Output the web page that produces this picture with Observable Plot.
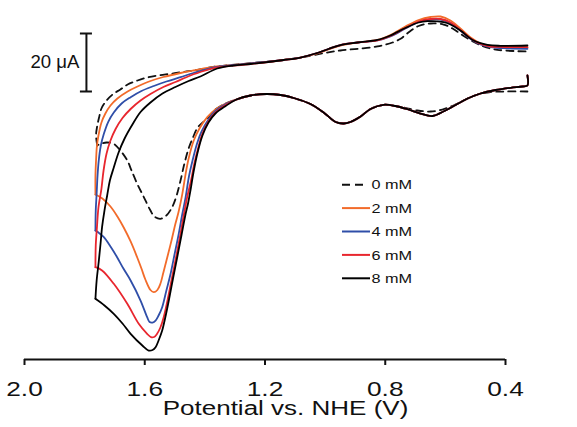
<!DOCTYPE html>
<html><head><meta charset="utf-8">
<script src="https://cdn.jsdelivr.net/npm/d3@7"></script>
<script src="https://cdn.jsdelivr.net/npm/@observablehq/plot@0.6"></script>
<style>
body{margin:0;background:#fff}
#chart{position:relative;width:577px;height:427px}
</style>
</head><body><div id="chart"></div>
<script>
// ---- data ----
const concentrations = ["0 mM", "2 mM", "4 mM", "6 mM", "8 mM"];
const colors = ["#111111", "#f26b2a", "#2f4ea8", "#e8262e", "#000000"];
const dashes = ["7,5", null, null, null, null];
const xTicks = [2.0, 1.6, 1.2, 0.8, 0.4];
const xDomain = [2.0, 0.4];
const currentDomain = [-101.03, 19.31]; // µA
const xLabel = "Potential vs. NHE (V)";
const scaleBarLabel = "20 μA";
const scaleBar = {potential: 1.794, bottom: -8.62, length: 20};

// [potential (V), current (µA)]
const forwardShared = [[0.327,-3.10],[0.327,-6.55],[0.343,-6.90],[0.383,-7.34],[0.433,-8.10],[0.483,-9.31],[0.526,-11.03],[0.566,-13.28],[0.603,-15.34],[0.643,-17.07],[0.683,-16.21],[0.723,-14.83],[0.766,-13.62],[0.806,-13.21],[0.849,-14.66],[0.882,-17.24],[0.916,-19.14],[0.939,-19.66],[0.965,-19.14],[1.005,-15.86],[1.049,-12.93],[1.099,-11.03],[1.148,-9.83],[1.195,-9.48],[1.248,-10.00],[1.295,-11.38]];

const forward0 = [[0.327,-8.62],[0.400,-8.62],[0.450,-8.79],[0.493,-9.66],[0.533,-11.38],[0.573,-13.45],[0.610,-14.83],[0.649,-15.52],[0.693,-15.17],[0.749,-13.97],[0.806,-13.21],[0.849,-14.66],[0.882,-17.24],[0.916,-19.14],[0.939,-19.66],[0.965,-19.14],[1.005,-15.86],[1.049,-12.93],[1.099,-11.03],[1.148,-9.83],[1.195,-9.48],[1.248,-10.00],[1.295,-11.38],[1.331,-12.76],[1.365,-14.83],[1.392,-17.93],[1.415,-20.00],[1.426,-21.38],[1.441,-24.83],[1.453,-27.93],[1.468,-33.45],[1.481,-39.31],[1.494,-44.48],[1.509,-48.52],[1.528,-51.38],[1.548,-52.52],[1.568,-51.72],[1.581,-49.66],[1.604,-44.83],[1.625,-40.45],[1.644,-35.86],[1.658,-32.41],[1.681,-28.97],[1.703,-26.66],[1.727,-26.21],[1.747,-26.66],[1.758,-27.24]];
const return0 = [[1.758,-27.24],[1.762,-23.79],[1.759,-21.03],[1.752,-17.59],[1.744,-14.48],[1.727,-11.72],[1.704,-9.41],[1.681,-7.93],[1.657,-6.21],[1.624,-4.83],[1.591,-3.79],[1.554,-3.10],[1.514,-2.52],[1.474,-1.90],[1.438,-1.38],[1.361,0.00],[1.248,1.14],[1.138,2.24],[1.082,3.10],[1.005,4.59],[0.949,5.52],[0.892,6.10],[0.826,6.90],[0.776,8.28],[0.749,9.55],[0.723,11.72],[0.689,13.97],[0.649,14.83],[0.606,14.48],[0.576,13.10],[0.550,11.28],[0.510,8.72],[0.473,6.90],[0.427,5.76],[0.360,5.28],[0.327,5.17]];

const forwardLeft2 = [[1.331,-12.76],[1.365,-14.83],[1.392,-17.48],[1.418,-21.38],[1.437,-25.52],[1.454,-31.72],[1.464,-37.00],[1.475,-43.90],[1.488,-50.34],[1.498,-54.24],[1.511,-60.00],[1.525,-65.76],[1.538,-71.03],[1.548,-74.93],[1.558,-77.07],[1.570,-77.83],[1.581,-77.07],[1.598,-73.45],[1.611,-69.66],[1.625,-65.86],[1.647,-60.34],[1.670,-55.52],[1.691,-51.72],[1.714,-48.28],[1.741,-45.52],[1.764,-44.14]];
const return2 = [[1.764,-44.14],[1.764,-37.59],[1.762,-32.41],[1.759,-27.24],[1.754,-23.79],[1.744,-19.31],[1.731,-16.21],[1.714,-13.45],[1.691,-11.03],[1.657,-8.62],[1.624,-6.90],[1.581,-5.00],[1.538,-3.62],[1.481,-2.24],[1.438,-1.38],[1.361,0.00],[1.248,1.03],[1.138,2.24],[1.082,3.10],[1.032,4.31],[0.989,5.86],[0.949,7.24],[0.892,8.28],[0.826,9.14],[0.783,10.86],[0.733,13.79],[0.689,16.03],[0.649,17.07],[0.616,17.24],[0.583,15.86],[0.550,13.10],[0.516,10.00],[0.483,7.93],[0.450,7.07],[0.400,6.72],[0.327,6.55]];

const forwardLeft4 = [[1.331,-12.93],[1.365,-15.34],[1.388,-18.28],[1.411,-22.41],[1.426,-26.55],[1.441,-32.41],[1.453,-37.93],[1.464,-45.07],[1.476,-51.38],[1.487,-57.69],[1.501,-64.83],[1.514,-71.48],[1.528,-77.24],[1.542,-83.00],[1.554,-85.86],[1.564,-87.59],[1.574,-88.28],[1.584,-88.10],[1.592,-86.45],[1.614,-80.69],[1.647,-73.79],[1.671,-69.66],[1.692,-65.76],[1.714,-62.07],[1.736,-58.86],[1.754,-57.24],[1.764,-56.55]];
const return4 = [[1.764,-56.55],[1.763,-49.66],[1.760,-43.79],[1.757,-37.59],[1.753,-32.41],[1.746,-27.24],[1.736,-23.21],[1.721,-18.97],[1.703,-15.86],[1.677,-12.76],[1.647,-10.59],[1.611,-8.45],[1.570,-6.72],[1.528,-5.17],[1.481,-3.69],[1.438,-2.24],[1.361,-0.17],[1.248,1.03],[1.138,2.24],[1.082,3.10],[1.032,4.48],[0.989,6.03],[0.949,7.41],[0.892,8.28],[0.826,8.97],[0.783,10.34],[0.733,13.10],[0.689,15.34],[0.649,16.21],[0.616,16.21],[0.583,15.00],[0.550,12.41],[0.516,9.48],[0.483,7.59],[0.450,6.72],[0.400,6.28],[0.327,6.10]];

const forwardLeft6 = [[1.331,-13.28],[1.365,-15.86],[1.388,-18.97],[1.408,-23.10],[1.421,-27.59],[1.435,-33.45],[1.446,-39.31],[1.459,-45.07],[1.471,-51.72],[1.481,-57.69],[1.494,-64.83],[1.509,-72.66],[1.523,-80.00],[1.537,-86.45],[1.548,-90.00],[1.559,-92.17],[1.569,-93.28],[1.579,-93.34],[1.592,-92.17],[1.620,-88.72],[1.658,-81.83],[1.703,-74.93],[1.742,-70.34],[1.764,-69.21]];
const return6 = [[1.764,-69.21],[1.763,-61.72],[1.759,-55.41],[1.754,-48.62],[1.744,-42.07],[1.737,-35.86],[1.727,-30.00],[1.714,-25.52],[1.697,-21.55],[1.674,-17.76],[1.647,-14.66],[1.614,-11.72],[1.581,-9.48],[1.538,-7.07],[1.498,-5.34],[1.448,-3.10],[1.398,-1.38],[1.361,-0.34],[1.248,0.86],[1.138,2.24],[1.082,3.10],[1.032,4.48],[0.989,6.03],[0.949,7.41],[0.892,8.28],[0.826,8.97],[0.783,10.52],[0.733,13.28],[0.689,15.52],[0.649,16.38],[0.616,16.38],[0.583,15.17],[0.550,12.59],[0.516,9.66],[0.483,7.76],[0.450,6.90],[0.400,6.72],[0.327,6.66]];

const forwardLeft8 = [[1.331,-13.62],[1.365,-16.21],[1.388,-19.31],[1.408,-23.79],[1.425,-30.00],[1.438,-36.55],[1.448,-42.76],[1.456,-47.24],[1.464,-50.79],[1.478,-58.28],[1.492,-65.76],[1.506,-73.10],[1.520,-80.69],[1.531,-86.21],[1.542,-91.03],[1.554,-94.48],[1.564,-96.79],[1.574,-97.76],[1.587,-97.93],[1.608,-96.21],[1.647,-92.17],[1.674,-88.62],[1.703,-85.28],[1.734,-82.41],[1.764,-80.10]];
const return8 = [[1.764,-80.10],[1.760,-73.79],[1.753,-67.24],[1.747,-61.03],[1.742,-55.41],[1.734,-49.66],[1.725,-44.48],[1.716,-39.31],[1.703,-34.83],[1.687,-29.66],[1.667,-24.83],[1.641,-20.00],[1.614,-15.69],[1.581,-12.41],[1.541,-9.31],[1.498,-7.07],[1.454,-5.00],[1.415,-3.45],[1.359,-0.69],[1.305,0.34],[1.248,0.86],[1.138,2.24],[1.082,3.10],[1.032,4.48],[0.989,6.03],[0.949,7.41],[0.892,8.28],[0.826,9.14],[0.783,10.69],[0.733,13.28],[0.689,15.17],[0.659,15.62],[0.606,15.28],[0.583,14.48],[0.550,12.41],[0.506,8.97],[0.460,7.48],[0.417,7.14],[0.327,7.24]];

// ---- assemble ----
const forwardScans = [forward0, forwardShared.concat(forwardLeft2), forwardShared.concat(forwardLeft4), forwardShared.concat(forwardLeft6), forwardShared.concat(forwardLeft8)];
const returnScans = [return0, return2, return4, return6, return8];
const rows = [];
concentrations.forEach((c, i) => {
  forwardScans[i].forEach(([E, I]) => rows.push({conc: c, branch: "forward", E, I}));
  returnScans[i].forEach(([E, I]) => rows.push({conc: c, branch: "return", E, I}));
});

const FONT = "'Liberation Sans', Arial, Helvetica, sans-serif";

const plot = Plot.plot({
  width: 577, height: 427,
  marginLeft: 24, marginRight: 72, marginTop: 10, marginBottom: 68,
  style: {fontFamily: FONT, background: "#fff", overflow: "visible"},
  x: {domain: xDomain},
  y: {domain: currentDomain, axis: null},
  marks: [
    Plot.ruleY([currentDomain[0]], {stroke: "#111", strokeWidth: 2}),
    Plot.axisX({ticks: xTicks, tickFormat: d => d.toFixed(1), tickSize: 6, tickPadding: 16, fontSize: 21, label: null, stroke: "#111", strokeWidth: 2, fill: "#111"}),
    ...concentrations.map((c, i) => Plot.line(rows.filter(r => r.conc === c), {
      x: "E", y: "I", z: "branch", stroke: colors[i], strokeWidth: 1.8,
      strokeDasharray: dashes[i] || undefined, curve: "catmull-rom", clip: false
    })),
    Plot.ruleX([scaleBar], {x: "potential", y1: "bottom", y2: d => d.bottom + d.length, stroke: "#111", strokeWidth: 2}),
    Plot.ruleY([scaleBar.bottom, scaleBar.bottom + scaleBar.length], {y: d => d, x1: scaleBar.potential + 0.02, x2: scaleBar.potential - 0.02, stroke: "#111", strokeWidth: 2}),
    Plot.text([scaleBarLabel], {x: scaleBar.potential, y: scaleBar.bottom + scaleBar.length / 2, text: d => d, textAnchor: "end", dx: -7, lineAnchor: "middle", fontSize: 18.6, fill: "#111"}),
    Plot.text([xLabel], {frameAnchor: "bottom", text: d => d, dx: 20.5, dy: 41, lineAnchor: "top", fontSize: 20, fill: "#111"})
  ]
});

document.getElementById("chart").appendChild(plot);

// ---- legend (inside the svg) ----
const svg = d3.select(plot.tagName.toLowerCase() === "svg" ? plot : plot.querySelector("svg"));
const legend = svg.append("g").attr("font-family", FONT).attr("font-size", 13).attr("fill", "#111").attr("text-anchor", "start");
const rowY0 = 184.7, rowStep = 23.4;
concentrations.forEach((c, i) => {
  const y = rowY0 + i * rowStep;
  legend.append("line")
    .attr("x1", 342).attr("x2", dashes[i] ? 365 : 370)
    .attr("y1", y).attr("y2", y)
    .attr("stroke", colors[i]).attr("stroke-width", 2)
    .attr("stroke-dasharray", dashes[i] ? "8,5" : null);
  legend.append("text").attr("x", 371.5).attr("y", y + 4.65).attr("text-anchor", "start").text(c);
});

// horizontal stretch of the wide sans text
function stretch(el, f) {
  const w = el.getComputedTextLength();
  el.setAttribute("textLength", (w * f).toFixed(1));
  el.setAttribute("lengthAdjust", "spacingAndGlyphs");
}
const tickStrings = xTicks.map(d => d.toFixed(1));
svg.selectAll("text").each(function() {
  const t = this.textContent;
  if (tickStrings.includes(t)) stretch(this, 1.25);
  else if (t === xLabel) stretch(this, 1.3);
  else if (concentrations.includes(t)) stretch(this, 1.25);
});
</script>
</body></html>
